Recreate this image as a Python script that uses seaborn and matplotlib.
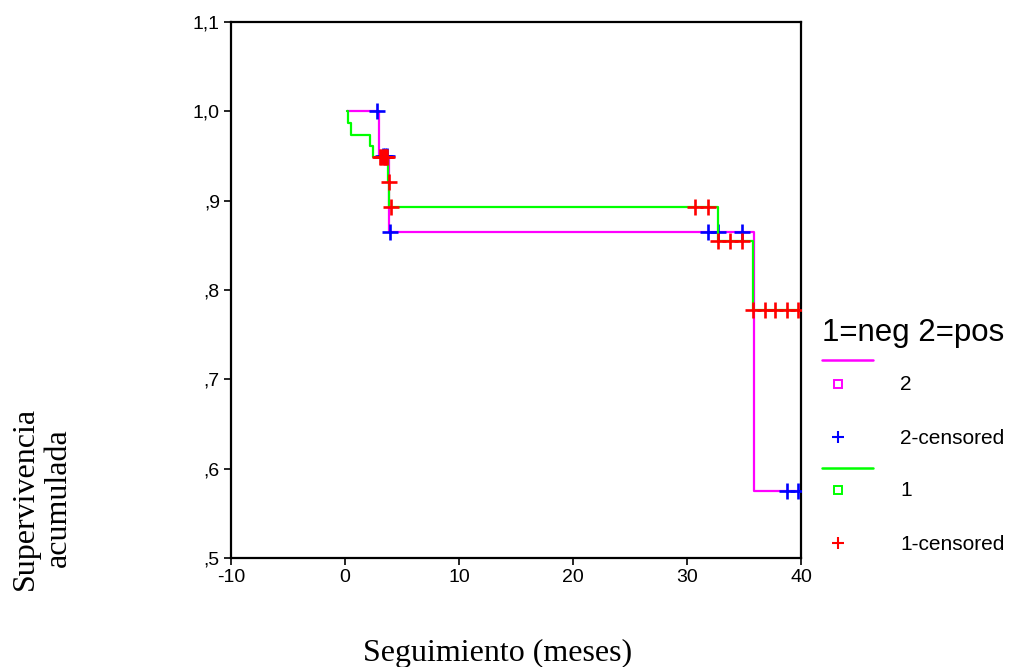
import matplotlib
matplotlib.use("Agg")
import matplotlib.pyplot as plt
import seaborn as sns
import pandas as pd

# Kaplan-Meier estimates: follow-up time (months) and cumulative survival
pos_times = [0.2, 3.0, 3.85, 35.9, 39.7]
pos_surv = [1.000, 0.950, 0.865, 0.575, 0.575]
pos_cens_times = [2.8, 3.3, 3.5, 3.7, 3.95, 31.8, 32.7, 34.8, 38.8, 39.7]
pos_cens_surv = [1.000, 0.950, 0.950, 0.950, 0.865, 0.865, 0.865, 0.865, 0.575, 0.575]

neg_times = [0.2, 0.25, 0.5, 2.2, 2.45, 3.8, 3.9, 32.7, 35.8, 39.7]
neg_surv = [1.000, 0.987, 0.974, 0.961, 0.949, 0.921, 0.893, 0.855, 0.778, 0.778]
neg_cens_times = [3.1, 3.2, 3.3, 3.4, 3.5, 3.6, 3.7, 3.85, 4.0,
                  30.7, 31.8, 32.7, 33.8, 34.8, 35.8, 36.8, 37.7, 38.8, 39.7]
neg_cens_surv = [0.949] * 7 + [0.921, 0.893, 0.893, 0.893, 0.855, 0.855, 0.855,
                               0.778, 0.778, 0.778, 0.778, 0.778]

x_ticks = [-10, 0, 10, 20, 30, 40]
x_tick_labels = ["-10", "0", "10", "20", "30", "40"]
y_ticks = [0.5, 0.6, 0.7, 0.8, 0.9, 1.0, 1.1]
y_tick_labels = [",5", ",6", ",7", ",8", ",9", "1,0", "1,1"]

legend_title = "1=neg 2=pos"
group_labels = ["2", "2-censored", "1", "1-censored"]

MAGENTA, BLUE, GREEN, RED = "#ff00ff", "#0000ff", "#00ff00", "#ff0000"

sns.set_style("ticks")
plt.rcParams["font.family"] = ["Liberation Sans", "DejaVu Sans"]
plt.rcParams.update({"text.color": "black", "axes.labelcolor": "black",
                     "xtick.color": "black", "ytick.color": "black"})

fig = plt.figure(figsize=(10.10, 6.67), dpi=100)
ax = fig.add_axes([231 / 1010, 1 - 558 / 667, 570 / 1010, 536 / 667])

pos_df = pd.DataFrame({"t": pos_times, "s": pos_surv})
neg_df = pd.DataFrame({"t": neg_times, "s": neg_surv})
pos_c = pd.DataFrame({"t": pos_cens_times, "s": pos_cens_surv})
neg_c = pd.DataFrame({"t": neg_cens_times, "s": neg_cens_surv})

sns.lineplot(data=pos_df, x="t", y="s", ax=ax, color=MAGENTA, lw=1.6,
             drawstyle="steps-post", estimator=None, zorder=2)
sns.scatterplot(data=pos_c, x="t", y="s", ax=ax, color=BLUE, marker="+",
                s=120, linewidth=1.9, zorder=3)
sns.lineplot(data=neg_df, x="t", y="s", ax=ax, color=GREEN, lw=1.6,
             drawstyle="steps-post", estimator=None, zorder=4)
sns.scatterplot(data=neg_c, x="t", y="s", ax=ax, color=RED, marker="+",
                s=120, linewidth=1.9, zorder=5)

ax.set_xlim(-10, 40)
ax.set_ylim(0.5, 1.1)
ax.set_xticks(x_ticks)
ax.set_xticklabels(x_tick_labels, fontsize=14)
ax.set_yticks(y_ticks)
ax.set_yticklabels(y_tick_labels, fontsize=14)
ax.tick_params(direction="out", length=5, width=1.2, color="black", pad=3,
               labelcolor="black")
for sp in ax.spines.values():
    sp.set_visible(True)
    sp.set_linewidth(1.6)
    sp.set_color("black")

ax.set_xlabel("Seguimiento (meses)", family="Liberation Serif", fontsize=23)
ax.xaxis.set_label_coords((498 - 231) / 570, (558 - 653) / 536)
ax.xaxis.label.set_va("center")
ax.set_ylabel("Supervivencia\nacumulada", family="Liberation Serif",
              fontsize=23, linespacing=1.2)
ax.yaxis.set_label_coords((42 - 231) / 570, (558 - 498) / 536)
ax.yaxis.label.set_va("center")
ax.yaxis.label.set_multialignment("center")

# Legend panel drawn in pixel space to the right of the plot
lax = fig.add_axes([0, 0, 1, 1], facecolor="none")
lax.set_xlim(0, 1010)
lax.set_ylim(667, 0)
lax.axis("off")
lax.text(822, 333, legend_title, fontsize=22.5, va="center", ha="left")
rows = [
    ("line", MAGENTA, 360, None),
    ("s", MAGENTA, 384, group_labels[0]),
    ("+", BLUE, 437, group_labels[1]),
    ("line", GREEN, 468, None),
    ("s", GREEN, 490, group_labels[2]),
    ("+", RED, 543, group_labels[3]),
]
for kind, col, y, lab in rows:
    if kind == "line":
        lax.plot([822, 873], [y, y], color=col, lw=1.8)
    else:
        if kind == "s":
            lax.plot([838], [y], marker="s", ms=5.5, mfc="none", mec=col, mew=1.4, ls="none")
        else:
            lax.plot([838], [y], marker="+", ms=9, mec=col, mew=1.5, ls="none")
        lax.text(900, y + 1, lab, fontsize=15, va="center", ha="left")

fig.savefig("out.png", dpi=100, facecolor="white")
